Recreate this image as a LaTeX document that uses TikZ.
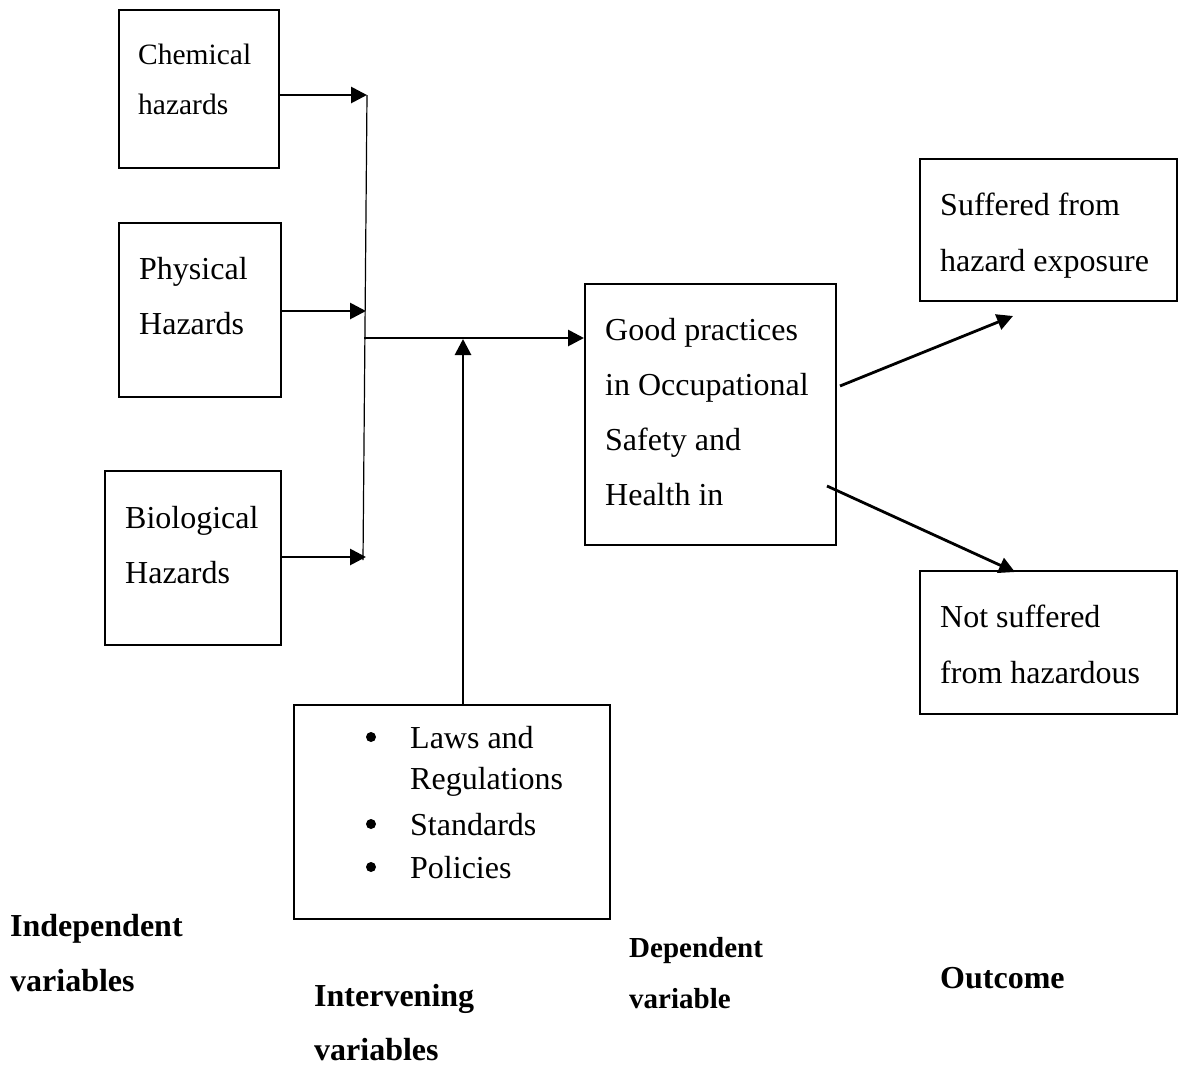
\documentclass[tikz,border=0pt]{standalone}
\usepackage{fontspec}
\setmainfont{Liberation Serif}
\usetikzlibrary{arrows.meta,calc}
\begin{document}
\begin{tikzpicture}[x=1pt,y=-1pt,
  box/.style={draw,line width=1.6pt,anchor=north west,inner sep=0pt},
  arr/.style={line width=2.8pt,-{Triangle[length=16pt,width=16pt]}},
  txt/.style={anchor=base west,inner sep=0pt,font=\fontsize{32}{38}\selectfont},
  small/.style={anchor=base west,inner sep=0pt,font=\fontsize{29.5}{34}\selectfont},
  lbl/.style={anchor=base west,inner sep=0pt,font=\fontsize{32}{38}\selectfont\bfseries},
  slbl/.style={anchor=base west,inner sep=0pt,font=\fontsize{29}{34}\selectfont\bfseries},
  dot/.style={circle,fill,inner sep=0pt,minimum size=10pt}]
\useasboundingbox (0,0) rectangle (1184,1066);
% boxes
\node[box,minimum width=160pt,minimum height=158pt] (chem) at (118,9) {};
\node[box,minimum width=162pt,minimum height=174pt] (phys) at (118,222) {};
\node[box,minimum width=176pt,minimum height=174pt] (bio) at (104,470) {};
\node[box,minimum width=251pt,minimum height=261pt] (gp) at (584,283) {};
\node[box,minimum width=257pt,minimum height=142pt] (suf) at (919,158) {};
\node[box,minimum width=257pt,minimum height=143pt] (nsuf) at (919,570) {};
\node[box,minimum width=316pt,minimum height=214pt] (law) at (293,704) {};
% texts
\node[small] (t1) at (138,64) {Chemical};
\node[small] (t2) at (138,114) {hazards};
\node[txt] (t3) at (139,279) {Physical};
\node[txt] (t4) at (139,334) {Hazards};
\node[txt] (t5) at (125,528) {Biological};
\node[txt] (t6) at (125,583) {Hazards};
\node[txt] (t7) at (605,340) {Good practices};
\node[txt] (t8) at (605,395) {in Occupational};
\node[txt] (t9) at (605,450) {Safety and};
\node[txt] (t10) at (605,505) {Health in};
\node[txt] (t11) at (940,215) {Suffered from};
\node[txt] (t12) at (940,271) {hazard exposure};
\node[txt] (t13) at (940,627) {Not suffered};
\node[txt] (t14) at (940,683) {from hazardous};
\node[dot] (b1) at (371,737) {};
\node[txt] (t15) at (410,748) {Laws and};
\node[txt] (t16) at (410,789) {Regulations};
\node[dot] (b2) at (371,824) {};
\node[txt] (t17) at (410,835) {Standards};
\node[dot] (b3) at (371,867) {};
\node[txt] (t18) at (410,878) {Policies};
\node[lbl] (l1) at (10,936) {Independent};
\node[lbl] (l2) at (10,991) {variables};
\node[lbl] (l3) at (314,1006) {Intervening};
\node[lbl] (l4) at (314,1060) {variables};
\node[slbl] (l5) at (629,957) {Dependent};
\node[slbl] (l6) at (629,1008) {variable};
\node[lbl] (l7) at (940,988) {Outcome};
% connectors
\coordinate (jt) at (367,95);
\coordinate (jb) at (363,560);
\coordinate (jm) at (364,338);
\coordinate (jup) at (463,339);
\coordinate (s1) at (840,386);
\coordinate (e1) at (1013,316);
\coordinate (s2) at (827,486);
\coordinate (e2) at (1015,572);
\draw[line width=1.2pt] (jt) -- (jb);
\draw[arr] (chem.east |- jt) -- (jt);
\draw[arr] (phys.east |- 0,311) -- (366,311);
\draw[arr] (bio.east |- 0,557) -- (366,557);
\draw[arr] (jm) -- (gp.west |- jm);
\draw[arr] (law.north -| jup) -- (jup);
\draw[arr] (s1) -- (e1);
\draw[arr] (s2) -- (e2);
\end{tikzpicture}
\end{document}
